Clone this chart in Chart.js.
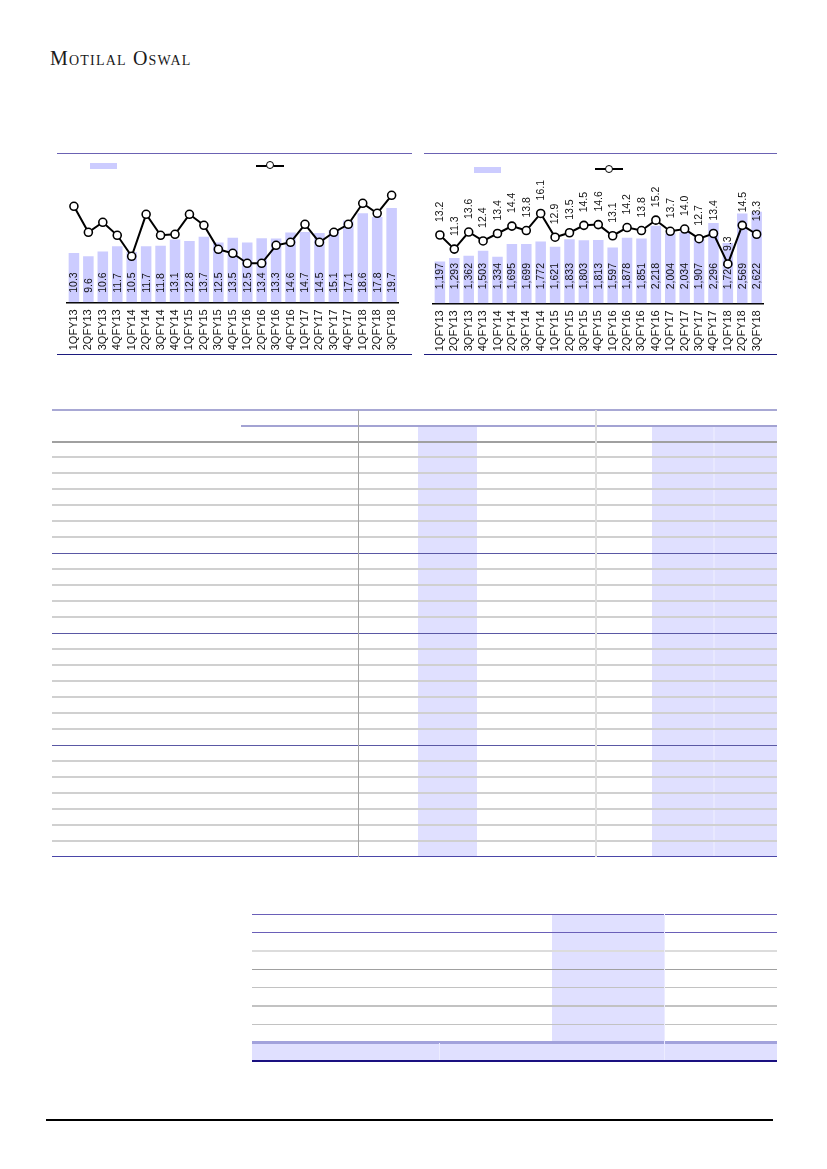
<!DOCTYPE html>
<html><head><meta charset="utf-8">
<script src="https://cdn.jsdelivr.net/npm/chart.js@4.4.0/dist/chart.umd.min.js"></script>
<style>
html,body{margin:0;padding:0;background:#fff}
body{width:827px;height:1169px;position:relative;overflow:hidden;font-family:"Liberation Sans",Arial,sans-serif}
.ln{position:absolute}
.wrap{position:absolute}
#logo{position:absolute;left:50px;top:47px;font-family:"Liberation Serif","DejaVu Serif",serif;font-size:20px;font-variant:small-caps;letter-spacing:1.2px;color:#1a1a1a;white-space:nowrap}
</style></head><body>
<div id="logo">Motilal Oswal</div>
<div class="wrap" style="left:57px;top:153px;width:355px;height:202px"><canvas id="c1"></canvas></div>
<div class="wrap" style="left:424px;top:153px;width:353px;height:202px"><canvas id="c2"></canvas></div>
<script>
// ---- data ----
const categories = ['1QFY13','2QFY13','3QFY13','4QFY13','1QFY14','2QFY14','3QFY14','4QFY14','1QFY15','2QFY15','3QFY15','4QFY15','1QFY16','2QFY16','3QFY16','4QFY16','1QFY17','2QFY17','3QFY17','4QFY17','1QFY18','2QFY18','3QFY18'];
const leftBars = [10.3,9.6,10.6,11.7,10.5,11.7,11.8,13.1,12.8,13.7,12.5,13.5,12.5,13.4,13.3,14.6,14.7,14.5,15.1,17.1,18.6,17.8,19.7];
const leftLine = [9.6,7.0,8.0,6.7,4.6,8.8,6.7,6.8,8.8,7.7,5.3,4.9,3.9,3.9,5.7,6.0,7.8,6.0,7.0,7.8,9.9,8.9,10.7];
const rightBars = [1197,1293,1362,1503,1334,1695,1699,1772,1621,1833,1803,1813,1597,1878,1851,2218,2004,2034,1907,2296,1724,2569,2622];
const rightLine = [13.2,11.3,13.6,12.4,13.4,14.4,13.8,16.1,12.9,13.5,14.5,14.6,13.1,14.2,13.8,15.2,13.7,14.0,12.7,13.4,9.3,14.5,13.3];

// ---- static page rules (layout only) ----
function hl(x1,x2,y,t,c){const d=document.createElement('div');d.className='ln';d.style.cssText=`left:${x1}px;top:${y-t/2}px;width:${x2-x1}px;height:${t}px;background:${c}`;document.body.appendChild(d);}
function vl(x,y1,y2,t,c){const d=document.createElement('div');d.className='ln';d.style.cssText=`left:${x-t/2}px;top:${y1}px;width:${t}px;height:${y2-y1}px;background:${c}`;document.body.appendChild(d);}
function box(x1,y1,x2,y2,c){const d=document.createElement('div');d.className='ln';d.style.cssText=`left:${x1}px;top:${y1}px;width:${x2-x1}px;height:${y2-y1}px;background:${c}`;document.body.appendChild(d);}

// chart frames
hl(57,412,153.3,1.3,'#6b62b3'); hl(57,412,354.5,1.5,'#1c1a7e');
hl(424,777,153.3,1.3,'#6b62b3'); hl(424,777,354.5,1.5,'#1c1a7e');
// legends
box(90,162.5,117,168.7,'#ccccff');
hl(256,284,165.7,2,'#000');
box(474,166.8,501,173,'#ccccff');
hl(595,623,169.3,2,'#000');
function mk(cx,cy){const d=document.createElement('div');d.className='ln';d.style.cssText=`left:${cx-4.5}px;top:${cy-4.5}px;width:6px;height:6px;border:1.5px solid #000;border-radius:50%;background:#fff`;document.body.appendChild(d);}
mk(270,165.7); mk(609,169.3);

// table 1
const SH='#e0e0ff';
box(418,426,477,857,SH); box(652,426,777,857,SH); vl(714,426,857,1.5,'#e8e8ff');
hl(52,777,410,2,'#a8a8d4');
hl(241,777,425.8,2,'#a3a3d3');
hl(52,777,442,2,'#a0a0a0');
[457,473,489,505,521,537,569,585,601,617,649,665,681,697,713,729,761,777,793,809,825,841].forEach(y=>hl(52,777,y,1.2,'#d0d0d0'));
[553.3,633.3,745.3].forEach(y=>hl(52,777,y,1.3,'#5a58a4'));
hl(52,777,856.5,1.5,'#4a46a8');
vl(358.3,410,857,1.3,'#a4a4a4');
vl(596,410,857,1.5,'#dedede');

// table 2
box(552,914,664,1061,SH);
box(252,1043,777,1061,SH);
hl(252,777,914.3,1.5,'#6a5fb8');
hl(252,777,932.3,1.5,'#6a5fb8');
hl(252,777,950.7,2,'#dcdcdc');
hl(252,777,969.3,1.2,'#a0a0a0');
[987.3,1006,1024.3].forEach(y=>hl(252,777,y,1.2,'#c2c2c2'));
hl(252,777,1042.5,2.5,'#a2a2dc');
hl(252,777,1061,2,'#1a1080');
vl(439.3,1043,1060,1,'#ececff');
vl(664,914,1060,1,'#ececff');

// footer
hl(46,773,1120,1.5,'#000');

// ---- charts ----
const FONT='"Liberation Sans", Arial, sans-serif';
function labelPlugin(barGap,lineGap,fmt){
  return {id:'lbl',afterDatasetDraw(chart,args){
    const ds=chart.data.datasets[args.index];
    if(ds.type!=='bar')return;
    const ctx=chart.ctx; ctx.save();
    ctx.fillStyle='#111'; ctx.font='10.5px '+FONT; ctx.textBaseline='middle'; ctx.textAlign='left';
    const base=chart.scales.y.getPixelForValue(0);
    args.meta.data.forEach((el,i)=>{
      ctx.save(); ctx.translate(el.x,base-barGap); ctx.rotate(-Math.PI/2);
      ctx.fillText(fmt(ds.data[i]),0,0.5); ctx.restore();
    });
    if(lineGap!==null){
      const li=chart.data.datasets.findIndex(d=>d.type==='line');
      const lm=chart.getDatasetMeta(li);
      lm.data.forEach((el,i)=>{
        ctx.save(); ctx.translate(el.x,el.y-lineGap); ctx.rotate(-Math.PI/2);
        ctx.fillText(chart.data.datasets[li].data[i].toFixed(1),0,0.5); ctx.restore();
      });
    }
    ctx.restore();
  }};
}
function makeChart(id,bars,line,yMax,y2Min,y2Max,pad,axisH,barGap,lineGap,fmt){
  return new Chart(document.getElementById(id),{
    type:'bar',
    data:{labels:categories,datasets:[
      {type:'line',data:line,yAxisID:'y2',borderColor:'#000',borderWidth:2,pointRadius:4,pointBackgroundColor:'#fff',pointBorderColor:'#000',pointBorderWidth:1.6,tension:0,order:0},
      {type:'bar',data:bars,yAxisID:'y',backgroundColor:'#ccccff',categoryPercentage:1,barPercentage:0.73,order:1}
    ]},
    options:{animation:false,responsive:true,maintainAspectRatio:false,
      layout:{padding:pad},
      plugins:{legend:{display:false},tooltip:{enabled:false}},
      scales:{
        x:{grid:{display:false,drawTicks:false},border:{display:true,color:'#000',width:1.5},
           ticks:{autoSkip:false,minRotation:90,maxRotation:90,padding:7,color:'#111',font:{family:FONT,size:11}},
           afterFit:s=>{s.height=axisH;}},
        y:{display:false,min:0,max:yMax},
        y2:{display:false,min:y2Min,max:y2Max}
      }},
    plugins:[labelPlugin(barGap,lineGap,fmt)]
  });
}
makeChart('c1',leftBars,leftLine,24.5,0,11.73,{left:9.7,right:7.7,top:32,bottom:0},52.7,9.5,null,v=>v.toFixed(1));
makeChart('c2',rightBars,rightLine,3400,4,20,{left:8.7,right:7,top:31.5,bottom:0},51.7,14,13,v=>v.toLocaleString('en-US'));
</script>
</body></html>
